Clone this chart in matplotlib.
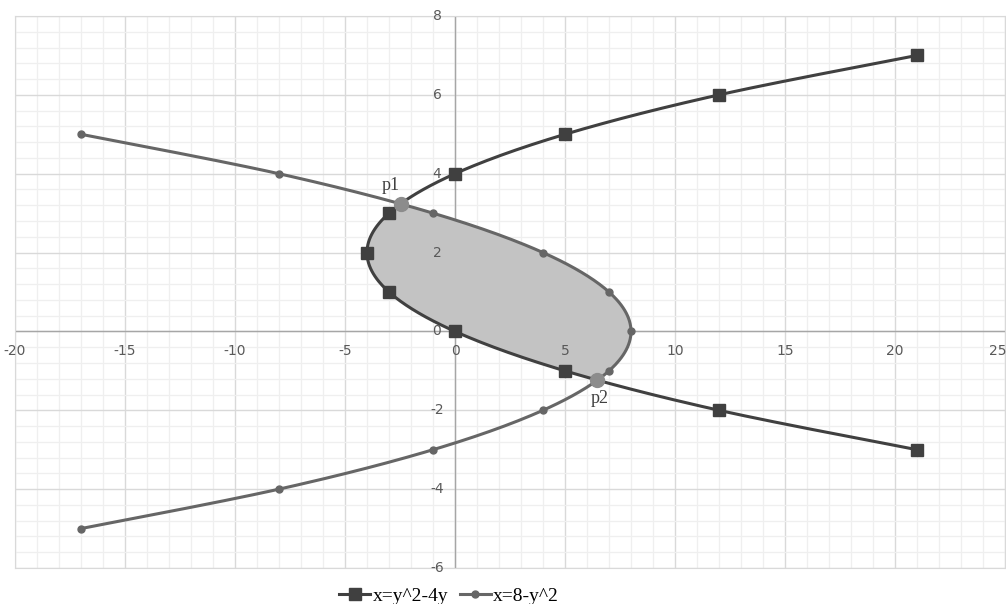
#! /usr/bin/env python3

"""
Region between x = y^2 - 4y and x = 8 - y^2, drawn Excel-style.
"""

import matplotlib.pyplot as plt
import numpy as np
from matplotlib.lines import Line2D
from matplotlib.ticker import MultipleLocator

# series 1: x = y^2 - 4y
S1_X = [21, 12, 5, 0, -3, -4, -3, 0, 5, 12, 21]
S1_Y = [-3, -2, -1, 0, 1, 2, 3, 4, 5, 6, 7]

# series 2: x = 8 - y^2
S2_X = [-17, -8, -1, 4, 7, 8, 7, 4, -1, -8, -17]
S2_Y = [-5, -4, -3, -2, -1, 0, 1, 2, 3, 4, 5]

# intersection points
P_NAMES = ['p1', 'p2']
P_X = [-2.47, 6.47]
P_Y = [3.24, -1.24]

C_S1 = '#404040'
C_S2 = '#666666'
C_P = '#8c8c8c'
C_FILL = '#c3c3c3'


def smooth(xs, ys, n=30):
    """Catmull-Rom smoothing, like Excel's smoothed line"""
    pts = np.column_stack([xs, ys]).astype(float)
    pts = np.vstack([pts[0], pts, pts[-1]])
    out = []
    t = np.linspace(0, 1, n, endpoint=False)[:, None]
    for i in range(1, len(pts) - 2):
        p0, p1, p2, p3 = pts[i - 1], pts[i], pts[i + 1], pts[i + 2]
        seg = 0.5 * ((2 * p1) + (-p0 + p2) * t + (2 * p0 - 5 * p1 + 4 * p2 - p3) * t ** 2
                     + (-p0 + 3 * p1 - 3 * p2 + p3) * t ** 3)
        out.append(seg)
    out.append(pts[-2][None, :])
    out = np.vstack(out)
    return out[:, 0], out[:, 1]


def main() -> None:
    fig = plt.figure(figsize=(10.06, 6.04), dpi=100)
    ax = fig.add_axes([15 / 1006, 36 / 604, 990 / 1006, 552 / 604])

    ax.set_xlim(-20, 25)
    ax.set_ylim(-6, 8)
    ax.xaxis.set_major_locator(MultipleLocator(5))
    ax.xaxis.set_minor_locator(MultipleLocator(1))
    ax.yaxis.set_major_locator(MultipleLocator(2))
    ax.yaxis.set_minor_locator(MultipleLocator(0.4))
    ax.grid(which='major', color='#d9d9d9', linewidth=1.0, zorder=0)
    ax.grid(which='minor', color='#efefef', linewidth=0.9, zorder=0)
    ax.set_axisbelow(True)

    for side in ['top', 'right', 'left', 'bottom']:
        ax.spines[side].set_color('#d9d9d9')
    ax.axhline(0, color='#a6a6a6', linewidth=1.0, zorder=1)
    ax.axvline(0, color='#a6a6a6', linewidth=1.0, zorder=1)

    ax.tick_params(which='both', length=0, labelbottom=False, labelleft=False)
    # tick labels next to the axes crossing at the origin
    for v in ax.get_xticks():
        if -20 <= v <= 25:
            ha = 'right' if v == 25 else 'center'
            dx = 1 if v == 25 else 0
            ax.annotate(f'{v:g}', (v, 0), xytext=(dx, -14), textcoords='offset points',
                        ha=ha, va='center', fontsize=10, color='#595959',
                        annotation_clip=False)
    for v in ax.get_yticks():
        if -6 <= v <= 8:
            ax.annotate(f'{v:g}', (0, v), xytext=(-13, 0), textcoords='offset points',
                        ha='center', va='center', fontsize=10, color='#595959')

    x1, y1 = smooth(S1_X, S1_Y)
    x2, y2 = smooth(S2_X, S2_Y)

    # shaded region between the curves
    lo, hi = min(P_Y), max(P_Y)
    m1 = (y1 >= lo) & (y1 <= hi)
    m2 = (y2 >= lo) & (y2 <= hi)
    fx = np.concatenate([[P_X[1]], x1[m1], [P_X[0]], x2[m2][::-1]])
    fy = np.concatenate([[P_Y[1]], y1[m1], [P_Y[0]], y2[m2][::-1]])
    ax.fill(fx, fy, color=C_FILL, zorder=2, linewidth=0)

    ax.plot(x1, y1, color=C_S1, linewidth=2.2, zorder=3)
    ax.plot(x2, y2, color=C_S2, linewidth=2.2, zorder=3)
    ax.plot(S1_X, S1_Y, 's', color=C_S1, markersize=8.5, zorder=4, linestyle='none')
    ax.plot(S2_X, S2_Y, 'o', color=C_S2, markersize=5, zorder=4, linestyle='none')
    ax.plot(P_X, P_Y, 'o', color=C_P, markersize=10, zorder=5, linestyle='none')

    offsets = [(-7, 13), (2, -13)]
    for name, px, py, off in zip(P_NAMES, P_X, P_Y, offsets):
        ax.annotate(name, (px, py), xytext=off, textcoords='offset points',
                    ha='center', va='center', fontsize=13, color='#404040',
                    family='Liberation Serif')

    handles = [
        Line2D([], [], color=C_S1, linewidth=2.2, marker='s', markersize=8.5),
        Line2D([], [], color=C_S2, linewidth=2.2, marker='o', markersize=5),
    ]
    fig.legend(handles, ['x=y^2-4y', 'x=8-y^2'], loc='center', bbox_to_anchor=(449 / 1006, 8 / 604),
               ncol=2, frameon=False, handlelength=1.6, handletextpad=0.1, columnspacing=0.6,
               prop={'family': 'Liberation Serif', 'size': 14}, borderpad=0.2)

    fig.savefig('out.png', dpi=100)


if __name__ == '__main__':
    main()
